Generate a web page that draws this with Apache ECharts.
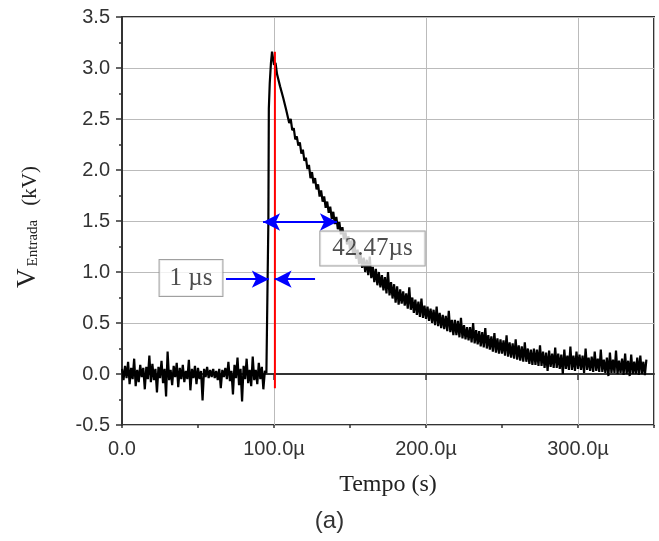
<!DOCTYPE html>
<html lang="pt">
<head>
  <meta charset="UTF-8">
  <title>V Entrada x Tempo</title>
  <script src="https://cdn.jsdelivr.net/npm/echarts@6/dist/echarts.min.js"></script>
  <style>
    html, body { margin: 0; padding: 0; background: #fff; }
  </style>
</head>
<body>

<div id="chart" style="width: 659px; height: 541px;"></div>

<script>
// tempo em µs, tensão em kV
// linha de base: 0..95 µs, passo 1 µs
var baseStart = 0;
var baseV = [
  0.05, -0.06, 0.08, -0.04, 0.12, -0.10, 0.06, -0.05, 0.15, -0.12, 0.04, -0.08, 0.09, -0.03, 0.06, -0.15, 0.07, -0.05, 0.18, -0.08,
  0.10, -0.06, 0.05, -0.18, 0.07, -0.04, 0.13, -0.09, 0.05, -0.22, 0.22, -0.06, 0.04, -0.11, 0.08, -0.03, 0.11, -0.13, 0.06, -0.05,
  0.09, -0.08, 0.03, -0.05, 0.14, -0.16, 0.05, -0.04, 0.08, -0.10, 0.06, -0.05, 0.03, -0.26, 0.05, -0.03, 0.07, -0.04, 0.04, -0.03,
  0.05, -0.04, 0.03, -0.06, 0.05, -0.14, 0.04, -0.03, 0.06, -0.05, 0.12, -0.07, 0.03, -0.20, 0.09, -0.04, 0.16, -0.11, 0.05, -0.27,
  0.08, -0.05, 0.15, -0.09, 0.04, -0.12, 0.17, -0.06, 0.04, -0.10, 0.11, -0.05, 0.07, -0.15, 0.03, 0.01
];
// subida do pulso
var riseT = [96, 96.3, 96.6, 97.2, 98, 98.7];
var riseV = [0.00, 1.50, 2.60, 2.85, 3.05, 3.16];
// decaimento: a partir de 99 µs, passo 1 µs
var decayStart = 99;
var decayV = [
  3.15, 3.03, 3.05, 2.94, 2.94, 2.82, 2.82, 2.71, 2.72, 2.59, 2.59, 2.46,
  2.50, 2.39, 2.41, 2.30, 2.33, 2.24, 2.27, 2.16, 2.20, 2.09, 2.12, 2.01, 2.05, 1.92,
  1.98, 1.87, 1.92, 1.81, 1.86, 1.74, 1.80, 1.69, 1.74, 1.63, 1.69, 1.58, 1.64, 1.52, 1.59, 1.47, 1.54,
  1.42, 1.49, 1.37, 1.44, 1.32, 1.39, 1.27, 1.35, 1.22, 1.31, 1.18, 1.27, 1.13, 1.22, 1.08, 1.17, 1.04,
  1.14, 1.00, 1.12, 0.97, 1.15, 0.94, 1.05, 0.90, 1.03, 0.87, 1.00, 0.85, 0.97, 0.82, 0.95, 0.79, 1.00, 0.77, 0.90, 0.74, 0.88, 0.70, 0.86, 0.68, 0.83,
  0.69, 0.81, 0.67, 0.79, 0.64, 0.85, 0.63, 0.75, 0.60, 0.73, 0.58, 0.71, 0.56, 0.74, 0.55, 0.67, 0.54,
  0.66, 0.52, 0.64, 0.50, 0.63, 0.48, 0.66, 0.47, 0.60, 0.45, 0.58, 0.44, 0.57, 0.42, 0.62, 0.41, 0.53, 0.38, 0.53, 0.38, 0.52, 0.36, 0.55, 0.35, 0.48, 0.34, 0.46,
  0.33, 0.46, 0.31, 0.50, 0.30, 0.43, 0.29, 0.42, 0.27, 0.41, 0.26, 0.45, 0.25, 0.38, 0.24, 0.37, 0.22, 0.40, 0.21, 0.35, 0.20, 0.34,
  0.20, 0.33, 0.18, 0.38, 0.17, 0.31, 0.16, 0.30, 0.15, 0.34, 0.14, 0.28, 0.13, 0.27, 0.12, 0.31, 0.12, 0.25, 0.10, 0.24, 0.09,
  0.25, 0.09, 0.24, 0.08, 0.28, 0.08, 0.22, 0.06, 0.21, 0.03, 0.23, 0.07, 0.20, 0.06, 0.26, 0.06, 0.20, 0.05, 0.19, 0.00, 0.24, 0.05, 0.18, 0.04, 0.27, 0.04, 0.18, 0.03, 0.22, 0.05,
  0.19, 0.04, 0.18, 0.01, 0.25, 0.04, 0.16, 0.03, 0.17, 0.02, 0.22, 0.03, 0.15, 0.02, 0.24, 0.02, 0.14, 0.01, 0.16, -0.02, 0.21, 0.01, 0.14, 0.01, 0.23, 0.00, 0.13, 0.01, 0.15, -0.01,
  0.20, 0.00, 0.13, -0.02, 0.19, 0.00, 0.12, 0.00, 0.16, -0.01, 0.18, 0.00, 0.12, -0.01, 0.14
];

// linha vermelha (pico)
var redT = 100.6;
var redV = [-0.14, 3.16];

// setas azuis: [t inicio, t fim, v]
var arrow1L = [68.4, 96.6, 0.93];
var arrow1R = [127.0, 100.4, 0.93];
var arrow2 = [92.8, 141.4, 1.49];

// caixas de texto
var boxText = ['1 µs', '42.47µs'];
var boxT = [45.4, 164.8];
var boxV = [0.94, 1.23];

var xMin = 0, xMax = 350, xStep = 100;
var yMin = -0.5, yMax = 3.5, yStep = 0.5;

var serif = '"Liberation Serif", "DejaVu Serif", serif';
var sans = '"Liberation Sans", Arial, sans-serif';

var traceData = [];
baseV.forEach(function (v, i) { traceData.push([baseStart + i, v]); });
riseT.forEach(function (t, i) { traceData.push([t, riseV[i]]); });
decayV.forEach(function (v, i) { traceData.push([decayStart + i, v]); });

var chart = echarts.init(document.getElementById('chart'));

var option = {
  animation: false,
  title: {
    text: '(a)',
    left: 'center',
    top: 504,
    textStyle: { fontFamily: sans, fontSize: 24, fontWeight: 'normal', color: '#333' }
  },
  grid: {
    left: 122, right: 5, top: 17, bottom: 116,
    show: true, borderColor: '#333', borderWidth: 2
  },
  xAxis: [{
    type: 'value',
    min: xMin, max: xMax, interval: xStep,
    name: 'Tempo (s)',
    nameLocation: 'middle',
    nameGap: 48,
    nameTextStyle: { fontFamily: serif, fontSize: 24, color: '#222' },
    axisLine: { lineStyle: { color: '#333', width: 2 } },
    axisTick: { length: 6, lineStyle: { color: '#333', width: 1.5 } },
    axisLabel: {
      margin: 14, showMaxLabel: false,
      fontFamily: sans, fontSize: 20, color: '#333',
      formatter: function (v) { return v === 0 ? '0.0' : v.toFixed(1) + 'µ'; }
    },
    splitLine: { show: true, lineStyle: { color: '#bbb', width: 1 } }
  }, {
    type: 'value',
    position: 'bottom',
    min: xMin, max: xMax, interval: xStep / 2,
    axisLine: { show: false },
    axisTick: { length: 3, lineStyle: { color: '#333', width: 1.5 } },
    axisLabel: { show: false },
    splitLine: { show: false }
  }],
  yAxis: {
    type: 'value',
    min: yMin, max: yMax, interval: yStep,
    name: '{v|V}{s|Entrada}{u|(kV)}',
    nameLocation: 'middle',
    nameGap: 81,
    nameTextStyle: {
      rich: {
        v: { fontFamily: serif, fontSize: 27, color: '#222', lineHeight: 30, verticalAlign: 'bottom' },
        s: { fontFamily: serif, fontSize: 15, color: '#222', lineHeight: 6, verticalAlign: 'bottom', padding: [0, 0, 0, 2] },
        u: { fontFamily: serif, fontSize: 21, color: '#222', lineHeight: 30, verticalAlign: 'bottom', padding: [0, 12, 0, 14] }
      }
    },
    axisLine: { lineStyle: { color: '#333', width: 2 } },
    axisTick: { length: 6, lineStyle: { color: '#333', width: 1.5 } },
    minorTick: { show: true, splitNumber: 2, length: 3, lineStyle: { color: '#333', width: 1.5 } },
    axisLabel: {
      margin: 12,
      fontFamily: sans, fontSize: 20, color: '#333',
      formatter: function (v) { return v.toFixed(1); }
    },
    splitLine: { show: true, lineStyle: { color: '#bbb', width: 1 } }
  },
  series: [{
    type: 'line',
    data: traceData,
    showSymbol: false,
    sampling: 'none',
    lineStyle: { color: '#000', width: 2.2 },
    z: 2,
    silent: true
  }, {
    type: 'line',
    data: [[redT, redV[0]], [redT, redV[1]]],
    showSymbol: false,
    lineStyle: { color: '#ff0000', width: 2 },
    z: 3,
    silent: true,
    markLine: {
      silent: true,
      symbolSize: [13, 17],
      label: { show: false },
      lineStyle: { type: 'solid', color: '#0000ff', width: 2 },
      data: [
        [{ coord: [arrow1L[0], arrow1L[2]], symbol: 'none' }, { coord: [arrow1L[1], arrow1L[2]], symbol: 'arrow' }],
        [{ coord: [arrow1R[0], arrow1R[2]], symbol: 'none' }, { coord: [arrow1R[1], arrow1R[2]], symbol: 'arrow' }],
        [{ coord: [arrow2[0], arrow2[2]], symbol: 'arrow' }, { coord: [arrow2[1], arrow2[2]], symbol: 'arrow' }]
      ]
    }
  }, {
    type: 'scatter',
    symbolSize: 1,
    itemStyle: { color: 'rgba(0,0,0,0)' },
    z: 5,
    silent: true,
    data: boxText.map(function (txt, i) {
      return {
        value: [boxT[i], boxV[i]],
        name: txt,
        label: { padding: i === 0 ? [6, 10, 6, 10] : [5, 12, 5, 12] }
      };
    }),
    label: {
      show: true,
      position: 'inside',
      formatter: '{b}',
      fontFamily: serif, fontSize: 25, color: '#222', lineHeight: 24,
      backgroundColor: '#fff', borderColor: '#888', borderWidth: 1
    }
  }]
};

chart.setOption(option);
</script>

</body>
</html>
